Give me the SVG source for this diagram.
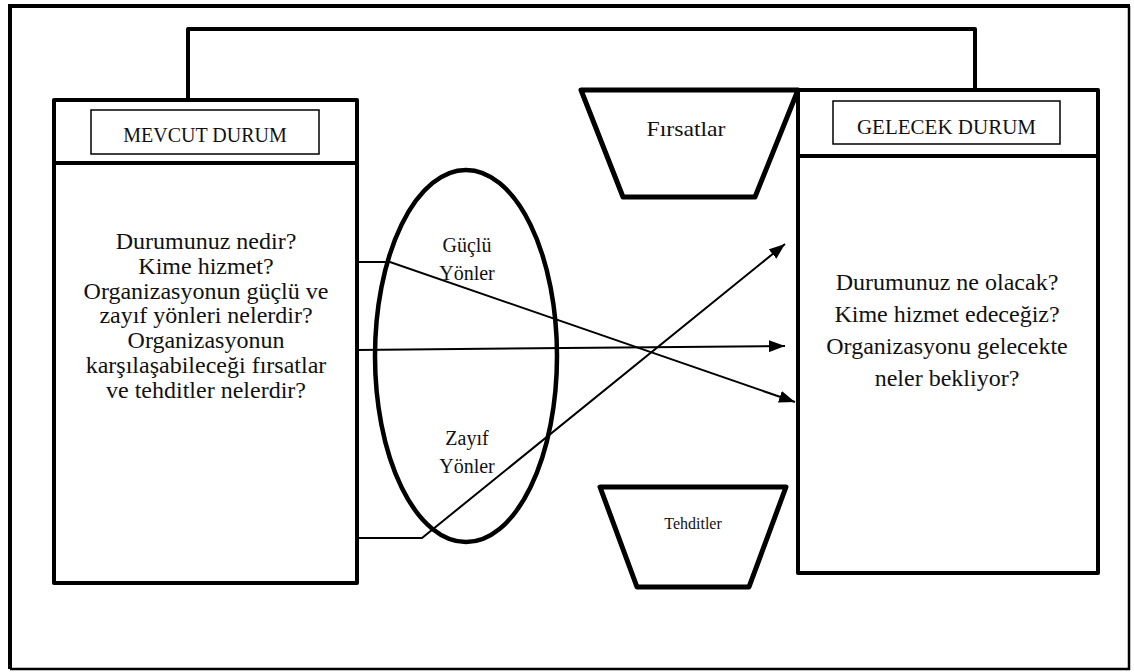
<svg xmlns="http://www.w3.org/2000/svg" width="1134" height="672" viewBox="0 0 1134 672">
<style>
text { font-family: 'Liberation Serif', 'Tinos', 'Times New Roman', 'DejaVu Serif', serif; fill: #111; text-anchor: middle; }
.box { fill: #fff; stroke: #000; stroke-width: 4; stroke-linejoin: round; }
.hdr { stroke: #000; stroke-width: 4; }
.lbl { fill: #fff; stroke: #000; stroke-width: 1.5; }
.shape { fill: #fff; stroke: #000; stroke-width: 5; stroke-linejoin: round; }
.conn { fill: none; stroke: #000; stroke-width: 2; }
.top { fill: none; stroke: #000; stroke-width: 4; stroke-linejoin: round; }
.big { font-size: 24px; }
.mid { font-size: 20px; }
.frame { fill: none; stroke: #000; }
</style>
<defs>
<marker id="arr" viewBox="0 0 16 12" refX="16" refY="6" markerWidth="16" markerHeight="12" markerUnits="userSpaceOnUse" orient="auto">
<path d="M0,0 L16,6 L0,12 z" fill="#000"/>
</marker>
</defs>
<rect x="0" y="0" width="1134" height="672" fill="#fff"/>
<g id="frame">
<path class="frame" stroke-width="4" d="M10,669 V6 H1130"/>
<path class="frame" stroke-width="2.5" d="M1129,6 V669 H10"/>
</g>

<g id="link-top">
<path class="top" d="M188,100 V29 H975 V90"/>
</g>

<g id="mevcut">
<rect class="box" x="54" y="100" width="303" height="483"/>
<line class="hdr" x1="54" y1="163" x2="357" y2="163"/>
<rect class="lbl" x="91" y="110" width="228" height="44"/>
<text x="205" y="142" font-size="20">MEVCUT DURUM</text>
<text class="big" x="206" y="249">Durumunuz nedir?</text>
<text class="big" x="206" y="274">Kime hizmet?</text>
<text class="big" x="206" y="298.5">Organizasyonun güçlü ve</text>
<text class="big" x="206" y="323">zayıf yönleri nelerdir?</text>
<text class="big" x="206" y="348">Organizasyonun</text>
<text class="big" x="206" y="373">karşılaşabileceği fırsatlar</text>
<text class="big" x="206" y="398">ve tehditler nelerdir?</text>
</g>

<g id="gelecek">
<rect class="box" x="798" y="90" width="300" height="483"/>
<line class="hdr" x1="798" y1="156" x2="1098" y2="156"/>
<rect class="lbl" x="833" y="101" width="227" height="43"/>
<text x="946.5" y="134" font-size="21">GELECEK DURUM</text>
<text class="big" x="947" y="290">Durumunuz ne olacak?</text>
<text class="big" x="947" y="322">Kime hizmet edeceğiz?</text>
<text class="big" x="947" y="354">Organizasyonu gelecekte</text>
<text class="big" x="947" y="386">neler bekliyor?</text>
</g>

<g id="firsatlar">
<polygon class="shape" points="581,90 798,90 755,197 623,197"/>
<text x="686" y="136" font-size="21" textLength="79" lengthAdjust="spacingAndGlyphs">Fırsatlar</text>
</g>

<g id="tehditler">
<polygon class="shape" points="600,487 786,487 749,587 637,587"/>
<text x="693" y="529" font-size="16">Tehditler</text>
</g>

<g id="ellipse">
<ellipse cx="466" cy="356" rx="91" ry="186" fill="none" stroke="#000" stroke-width="4.5"/>
<text class="mid" x="467" y="252">Güçlü</text>
<text class="mid" x="467" y="280">Yönler</text>
<text class="mid" x="467" y="445">Zayıf</text>
<text class="mid" x="467" y="473">Yönler</text>
</g>

<g id="connectors">
<polyline class="conn" points="357,262 390,262 795,402" marker-end="url(#arr)"/>
<polyline class="conn" points="357,350 785,346" marker-end="url(#arr)"/>
<polyline class="conn" points="357,538 422,538 785,244" marker-end="url(#arr)"/>
</g>
</svg>
